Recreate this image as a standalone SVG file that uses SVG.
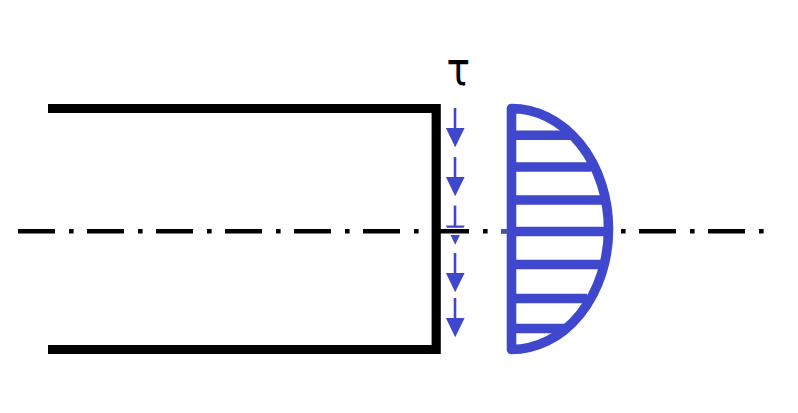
<svg xmlns="http://www.w3.org/2000/svg" width="798" height="413" viewBox="0 0 798 413">
<defs>
<style>
.axis{fill:none;stroke:#000;stroke-width:4.6;stroke-dasharray:37 14 4.6 13.4}
.wall{fill:none;stroke:#000;stroke-width:9.2;stroke-linejoin:miter}
.prof{fill:none;stroke:#3f48cc;stroke-width:9.6;stroke-linejoin:round}
.shaft{stroke:#3f48cc;stroke-width:2.6;fill:none}
.head{fill:#3f48cc;stroke:none}
.label{font-family:"DejaVu Sans",sans-serif;font-size:45px;fill:#000}
</style>
<g id="arrow"><line class="shaft" x1="455" y1="0" x2="455" y2="21"/><polygon class="head" points="445.900,20 464.600,20 455.200,39.200"/></g>
</defs>
<rect width="798" height="413" fill="#fff"/>
<g id="wall"><path class="wall" d="M48 108.500H436.200V349.500H48"/></g>
<g id="connectors">
<use href="#arrow" y="108"/>
<use href="#arrow" y="157"/>
<use href="#arrow" y="205.500"/>
<use href="#arrow" y="253"/>
<use href="#arrow" y="298"/>
<rect x="441" y="227.800" width="28" height="7.200" fill="#fff"/>
<line class="axis" x1="18" y1="231.200" x2="765" y2="231.200"/>
<line x1="501" y1="231.200" x2="508" y2="231.200" stroke="#4d5599" stroke-width="4.400"/>
</g>
<g id="profile">
<path class="prof" d="M511.500 108.500A97 120.500 0 0 1 511.500 349.500Z"/>
<path class="prof" d="M511.500 135.300H571M511.500 167H591M511.500 200H604M511.500 231.500H608M511.500 264.500H603M511.500 298.500H587M511.500 328.500H565"/>
</g>
<g id="tau"><text class="label" transform="translate(458.300 85) scale(.87 1.03)" text-anchor="middle">τ</text></g>
</svg>
